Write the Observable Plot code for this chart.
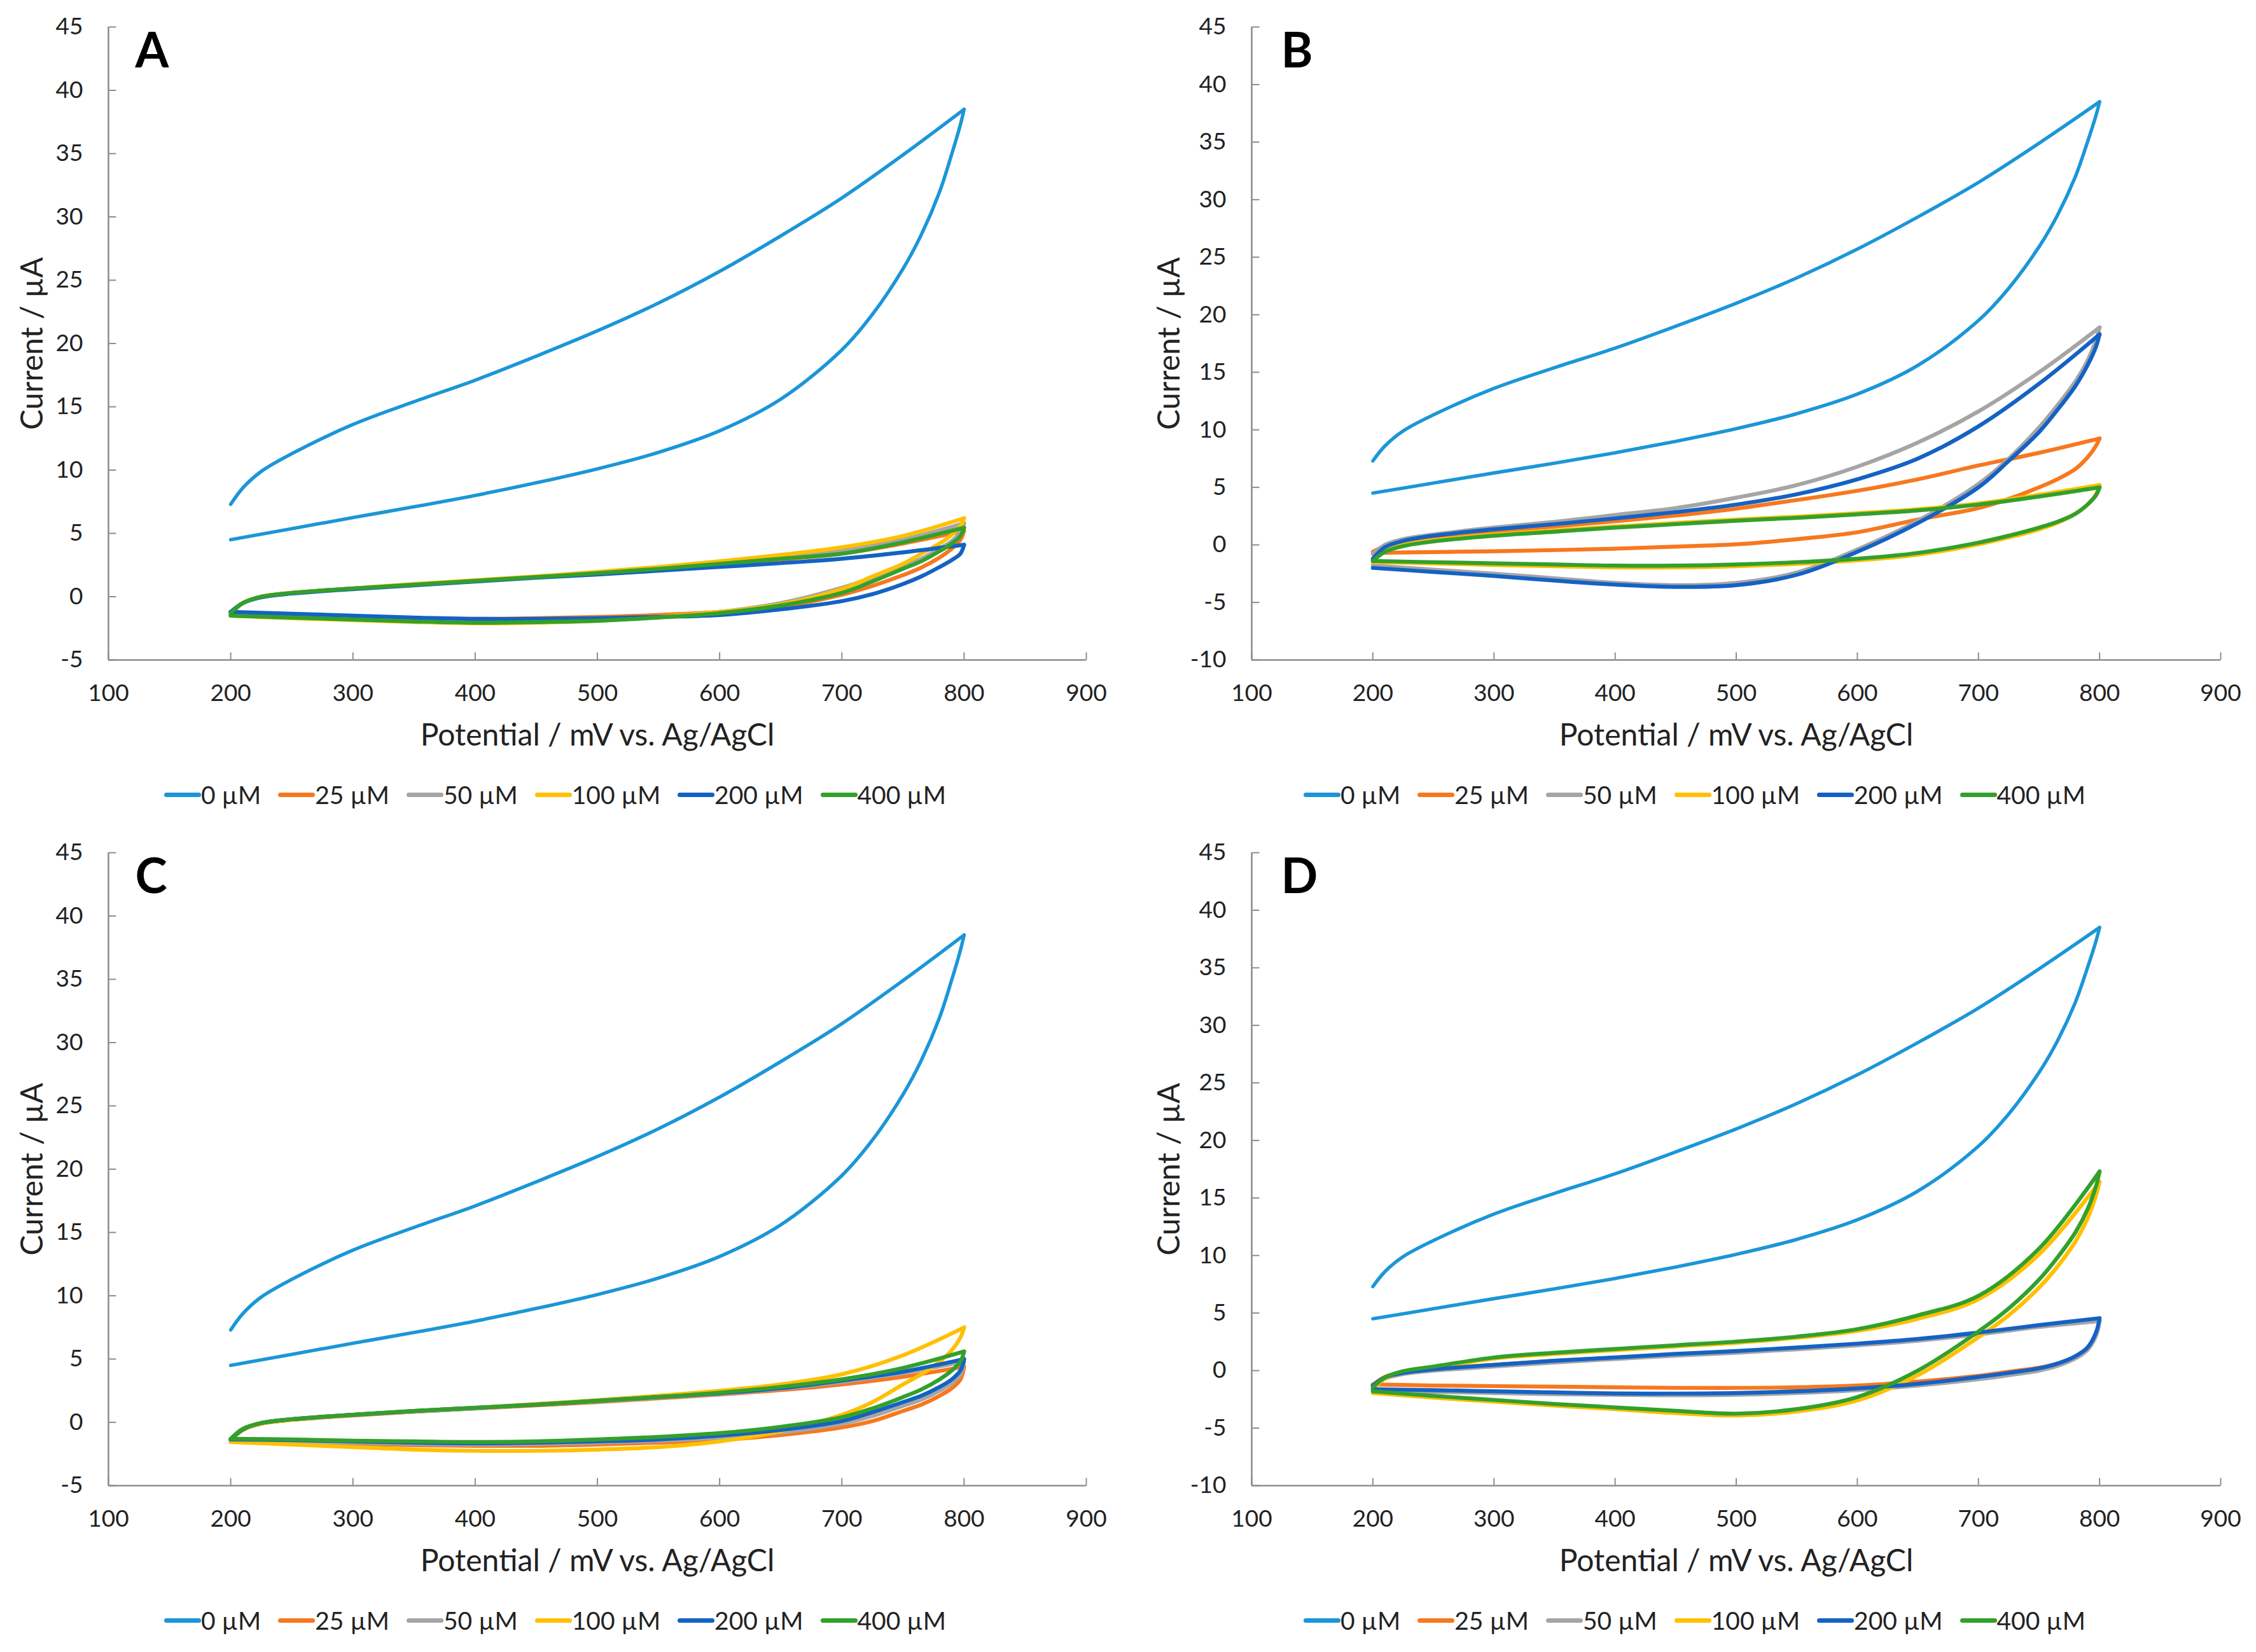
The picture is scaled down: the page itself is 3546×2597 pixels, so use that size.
<!DOCTYPE html>
<html>
<head>
<meta charset="utf-8">
<script src="https://cdn.jsdelivr.net/npm/d3@7"></script>
<script src="https://cdn.jsdelivr.net/npm/@observablehq/plot@0.6"></script>
<style>
  html, body { margin: 0; padding: 0; background: #fff; }
  #grid { display: grid; grid-template-columns: 1773px 1773px; grid-template-rows: 1298px 1299px; width: 3546px; }
  .cell { position: relative; width: 1773px; }
  .cell svg { display: block; }
  .legend { height: 98px; display: flex; align-items: center; font-family: Lato, "Open Sans", sans-serif; font-size: 39px; color: #222; }
  .item { display: flex; align-items: center; margin-right: 27px; }
  .sw { display: inline-block; width: 58px; height: 7px; border-radius: 4px; }
</style>
</head>
<body>
<div id="grid"></div>
<script>
// ---------- shared definitions ----------
const concentrations = ["0 µM", "25 µM", "50 µM", "100 µM", "200 µM", "400 µM"];
const seriesColors = ["#1b96d8", "#f7781e", "#a5a5a5", "#ffc000", "#1462c4", "#33a02c"];
const panelLetters = ["A", "B", "C", "D"];
const xTicks = [100, 200, 300, 400, 500, 600, 700, 800, 900];
const yTicksAC = [-5, 0, 5, 10, 15, 20, 25, 30, 35, 40, 45];
const yTicksBD = [-10, -5, 0, 5, 10, 15, 20, 25, 30, 35, 40, 45];
const xLabel = "Potential / mV vs. Ag/AgCl";
const yLabel = "Current / µA";

// potential grid (mV): forward scan 200 -> 800, reverse scan 800 -> 200
const potentialsForward = [200, 210, 225, 250, 300, 350, 400, 450, 500, 550, 600, 650, 700, 750, 800];
const potentialsReverse = [800, 797, 790, 780, 765, 750, 725, 700, 650, 600, 550, 500, 450, 400, 350, 300, 250, 200];

// ---------- 0 µM (control, same in every panel) ----------
const cv0_fwd = [7.3, 8.6, 9.9, 11.3, 13.6, 15.4, 17.1, 19.0, 21.0, 23.2, 25.7, 28.5, 31.5, 34.9, 38.5];
const cv0_rev = [38.5, 37.3, 35.0, 32.0, 28.6, 25.9, 22.3, 19.5, 15.6, 13.1, 11.4, 10.1, 9.0, 8.0, 7.1, 6.25, 5.37, 4.5];

// ---------- Panel A ----------
const A25_fwd = [-1.3, -0.5, 0.0, 0.3, 0.65, 0.95, 1.25, 1.55, 1.85, 2.2, 2.55, 2.95, 3.4, 4.2, 5.2];
const A25_rev = [5.2, 4.5, 3.8, 3.1, 2.3, 1.7, 0.85, 0.15, -0.8, -1.2, -1.45, -1.6, -1.7, -1.75, -1.7, -1.6, -1.45, -1.3];
const A50_fwd = [-1.3, -0.5, 0.0, 0.3, 0.65, 0.95, 1.25, 1.55, 1.9, 2.25, 2.7, 3.15, 3.7, 4.5, 5.8];
const A50_rev = [5.8, 5.1, 4.4, 3.8, 3.0, 2.4, 1.5, 0.7, -0.5, -1.2, -1.6, -1.85, -1.95, -2.0, -1.9, -1.75, -1.6, -1.45];
const A100_fwd = [-1.4, -0.5, 0.0, 0.3, 0.65, 1.0, 1.3, 1.6, 1.95, 2.35, 2.8, 3.3, 3.9, 4.8, 6.2];
const A100_rev = [6.2, 5.6, 4.9, 4.2, 3.4, 2.6, 1.6, 0.6, -0.6, -1.2, -1.6, -1.9, -2.05, -2.1, -2.0, -1.85, -1.7, -1.5];
const A200_fwd = [-1.2, -0.5, -0.05, 0.25, 0.6, 0.9, 1.2, 1.5, 1.75, 2.05, 2.35, 2.65, 3.0, 3.5, 4.1];
const A200_rev = [4.1, 3.4, 2.9, 2.35, 1.6, 1.0, 0.2, -0.35, -1.0, -1.45, -1.6, -1.7, -1.75, -1.75, -1.65, -1.5, -1.35, -1.2];
const A400_fwd = [-1.3, -0.5, 0.0, 0.3, 0.65, 0.95, 1.25, 1.55, 1.85, 2.2, 2.6, 3.0, 3.4, 4.3, 5.45];
const A400_rev = [5.45, 4.8, 4.2, 3.6, 2.8, 2.2, 1.2, 0.3, -0.7, -1.3, -1.65, -1.9, -2.0, -2.05, -1.95, -1.8, -1.65, -1.5];

// ---------- Panel B ----------
const B25_fwd = [-0.6, -0.1, 0.3, 0.7, 1.15, 1.6, 2.05, 2.55, 3.15, 3.9, 4.7, 5.7, 6.9, 8.0, 9.25];
const B25_rev = [9.25, 8.6, 7.6, 6.6, 5.7, 5.0, 4.0, 3.2, 2.2, 1.1, 0.5, 0.05, -0.15, -0.33, -0.45, -0.55, -0.62, -0.7];
const B50_fwd = [-0.8, 0.0, 0.5, 0.9, 1.5, 2.0, 2.6, 3.2, 4.1, 5.2, 6.8, 8.9, 11.6, 15.0, 18.9];
const B50_rev = [18.9, 17.8, 16.0, 14.2, 12.1, 10.2, 7.5, 5.3, 2.1, -0.4, -2.4, -3.3, -3.5, -3.3, -2.9, -2.5, -2.15, -1.8];
const B100_fwd = [-1.3, -0.5, 0.0, 0.4, 0.9, 1.25, 1.6, 1.9, 2.2, 2.45, 2.75, 3.1, 3.6, 4.35, 5.2];
const B100_rev = [5.2, 4.4, 3.5, 2.7, 1.9, 1.35, 0.65, 0.05, -0.85, -1.35, -1.65, -1.85, -1.95, -1.95, -1.85, -1.75, -1.6, -1.5];
const B200_fwd = [-1.2, -0.2, 0.35, 0.8, 1.35, 1.8, 2.3, 2.85, 3.5, 4.4, 5.7, 7.5, 10.3, 14.0, 18.3];
const B200_rev = [18.3, 17.2, 15.6, 13.8, 11.7, 9.8, 7.3, 5.0, 1.9, -0.6, -2.6, -3.5, -3.65, -3.45, -3.1, -2.7, -2.35, -2.0];
const B400_fwd = [-1.4, -0.6, -0.1, 0.3, 0.8, 1.15, 1.5, 1.8, 2.1, 2.35, 2.65, 3.0, 3.5, 4.2, 5.0];
const B400_rev = [5.0, 4.3, 3.5, 2.7, 2.0, 1.5, 0.8, 0.2, -0.7, -1.2, -1.5, -1.7, -1.8, -1.8, -1.7, -1.6, -1.5, -1.4];

// ---------- Panel C ----------
const C25_fwd = [-1.4, -0.6, -0.1, 0.2, 0.55, 0.85, 1.1, 1.35, 1.6, 1.9, 2.2, 2.55, 3.0, 3.6, 4.4];
const C25_rev = [4.4, 3.4, 2.7, 2.1, 1.4, 0.9, 0.1, -0.4, -1.0, -1.4, -1.6, -1.75, -1.85, -1.85, -1.8, -1.7, -1.6, -1.5];
const C50_fwd = [-1.35, -0.55, -0.05, 0.25, 0.6, 0.85, 1.1, 1.4, 1.65, 1.95, 2.25, 2.65, 3.2, 3.9, 4.8];
const C50_rev = [4.8, 3.8, 3.1, 2.5, 1.8, 1.3, 0.5, -0.1, -0.8, -1.2, -1.45, -1.6, -1.7, -1.75, -1.7, -1.6, -1.5, -1.4];
const C100_fwd = [-1.4, -0.6, -0.1, 0.2, 0.6, 0.9, 1.15, 1.45, 1.75, 2.1, 2.5, 3.0, 3.8, 5.3, 7.5];
const C100_rev = [7.5, 6.7, 5.7, 4.8, 3.8, 3.0, 1.6, 0.6, -0.7, -1.5, -1.95, -2.15, -2.25, -2.25, -2.15, -1.95, -1.75, -1.55];
const C200_fwd = [-1.35, -0.55, -0.05, 0.25, 0.6, 0.9, 1.15, 1.4, 1.7, 2.0, 2.3, 2.7, 3.3, 4.0, 5.0];
const C200_rev = [5.0, 4.1, 3.4, 2.8, 2.1, 1.6, 0.8, 0.1, -0.6, -1.05, -1.35, -1.5, -1.6, -1.65, -1.6, -1.5, -1.4, -1.35];
const C400_fwd = [-1.3, -0.5, -0.05, 0.25, 0.6, 0.9, 1.15, 1.4, 1.7, 2.0, 2.35, 2.8, 3.4, 4.3, 5.6];
const C400_rev = [5.6, 4.8, 4.1, 3.4, 2.6, 2.0, 1.1, 0.4, -0.35, -0.85, -1.15, -1.35, -1.5, -1.55, -1.5, -1.45, -1.35, -1.3];

// ---------- Panel D ----------
const D25_fwd = [-1.25, -0.55, -0.15, 0.15, 0.5, 0.85, 1.12, 1.4, 1.65, 1.95, 2.3, 2.7, 3.2, 3.85, 4.4];
const D25_rev = [4.4, 3.1, 1.9, 1.2, 0.6, 0.25, -0.1, -0.45, -0.95, -1.3, -1.45, -1.5, -1.5, -1.45, -1.4, -1.35, -1.3, -1.2];
const D50_fwd = [-1.4, -0.7, -0.3, 0.0, 0.35, 0.7, 1.0, 1.3, 1.55, 1.85, 2.2, 2.6, 3.15, 3.8, 4.3];
const D50_rev = [4.3, 3.0, 1.8, 1.05, 0.4, 0.0, -0.4, -0.75, -1.3, -1.7, -1.95, -2.1, -2.15, -2.1, -2.05, -1.95, -1.85, -1.75];
const D100_fwd = [-1.6, -0.7, -0.15, 0.25, 1.05, 1.45, 1.78, 2.1, 2.42, 2.85, 3.45, 4.5, 6.2, 10.1, 16.4];
const D100_rev = [16.4, 15.2, 13.2, 11.2, 9.0, 7.2, 4.8, 2.9, -0.4, -2.6, -3.55, -3.9, -3.7, -3.35, -3.05, -2.7, -2.35, -1.95];
const D200_fwd = [-1.3, -0.6, -0.2, 0.1, 0.5, 0.85, 1.14, 1.45, 1.7, 2.0, 2.34, 2.75, 3.3, 3.95, 4.55];
const D200_rev = [4.55, 3.3, 2.0, 1.25, 0.6, 0.2, -0.2, -0.55, -1.15, -1.55, -1.8, -1.95, -2.0, -1.99, -1.9, -1.8, -1.7, -1.62];
const D400_fwd = [-1.45, -0.6, -0.05, 0.35, 1.14, 1.55, 1.88, 2.2, 2.52, 2.95, 3.6, 4.8, 6.5, 10.6, 17.3];
const D400_rev = [17.3, 16.0, 14.0, 12.0, 9.8, 7.9, 5.4, 3.4, 0.0, -2.3, -3.35, -3.74, -3.5, -3.2, -2.9, -2.55, -2.2, -1.8];

// ---------- build tables ----------
function loop(conc, fwd, rev) {
  return [
    ...fwd.map((I, i) => ({E: potentialsForward[i], I, conc, key: conc + " fwd"})),
    ...rev.map((I, i) => ({E: potentialsReverse[i], I, conc, key: conc + " rev"}))
  ];
}
const panelSeries = [
  [[A25_fwd, A25_rev], [A50_fwd, A50_rev], [A100_fwd, A100_rev], [A200_fwd, A200_rev], [A400_fwd, A400_rev]],
  [[B25_fwd, B25_rev], [B50_fwd, B50_rev], [B100_fwd, B100_rev], [B200_fwd, B200_rev], [B400_fwd, B400_rev]],
  [[C25_fwd, C25_rev], [C50_fwd, C50_rev], [C100_fwd, C100_rev], [C200_fwd, C200_rev], [C400_fwd, C400_rev]],
  [[D25_fwd, D25_rev], [D50_fwd, D50_rev], [D100_fwd, D100_rev], [D200_fwd, D200_rev], [D400_fwd, D400_rev]]
];
const yMins = [-5, -10, -5, -10];
const yTickSets = [yTicksAC, yTicksBD, yTicksAC, yTicksBD];

// ---------- styling ----------
const FONT = "Lato, 'Open Sans', sans-serif";
const axisGray = "#8e8e8e";
const textColor = "#222";
const tickUp = {draw(ctx) { ctx.moveTo(0, 0); ctx.lineTo(0, -12); }};
const tickRight = {draw(ctx) { ctx.moveTo(0, 0); ctx.lineTo(12, 0); }};

function makePanel(p) {
  const wide = p % 2 === 1;            // panels B and D have a "-10" tick
  const marginLeft = wide ? 194 : 170;
  const marginRight = wide ? 56 : 66;
  const yMin = yMins[p];
  const yTicks = yTickSets[p];
  const control = loop(concentrations[0], cv0_fwd, cv0_rev);
  const others = panelSeries[p].flatMap((s, i) => loop(concentrations[i + 1], s[0], s[1]));
  return Plot.plot({
    width: 1773,
    height: 1200,
    marginLeft, marginRight,
    marginTop: 42,
    marginBottom: 163,
    style: {fontFamily: FONT, color: textColor, background: "white", overflow: "visible"},
    x: {domain: [100, 900]},
    y: {domain: [yMin, 45]},
    color: {domain: concentrations, range: seriesColors},
    marks: [
      Plot.ruleY([yMin], {stroke: axisGray, strokeWidth: 2.6}),
      Plot.ruleX([100], {stroke: axisGray, strokeWidth: 2.6}),
      Plot.dot(xTicks, {x: d => d, y: yMin, symbol: tickUp, fill: "none", stroke: axisGray, strokeWidth: 2}),
      Plot.dot(yTicks, {x: 100, y: d => d, symbol: tickRight, fill: "none", stroke: axisGray, strokeWidth: 2}),
      Plot.axisX({ticks: xTicks, tickSize: 0, tickPadding: 38, tickFormat: d => String(d), fontSize: 37, label: null}),
      Plot.axisY({ticks: yTicks, tickSize: 0, tickPadding: 40, tickFormat: d => String(d), fontSize: 37, label: null}),
      Plot.line(control, {x: "E", y: "I", z: "key", stroke: "conc", curve: "catmull-rom", strokeWidth: 5.4, strokeLinecap: "round", strokeLinejoin: "round"}),
      Plot.line(others, {x: "E", y: "I", z: "key", stroke: "conc", curve: "catmull-rom", strokeWidth: 6.2, strokeLinecap: "round", strokeLinejoin: "round"}),
      Plot.text([panelLetters[p]], {frameAnchor: "top-left", dx: wide ? 46 : 42, dy: 10, textAnchor: "start", lineAnchor: "top", fontSize: 76, fontWeight: "bold", fill: "#000"}),
      Plot.text([xLabel], {frameAnchor: "bottom", dy: 119, lineAnchor: "middle", textAnchor: "middle", fontSize: 48, fill: textColor}),
      Plot.text([yLabel], {frameAnchor: "left", dx: wide ? -129 : -119, rotate: -90, textAnchor: "middle", lineAnchor: "middle", fontSize: 48, fill: textColor})
    ]
  });
}

const grid = document.getElementById("grid");
for (let p = 0; p < 4; p++) {
  const cell = document.createElement("div");
  cell.className = "cell";
  cell.appendChild(makePanel(p));
  const legend = document.createElement("div");
  legend.className = "legend";
  legend.style.paddingLeft = (p % 2 === 1 ? 276 : 258) + "px";
  concentrations.forEach((c, i) => {
    const item = document.createElement("span");
    item.className = "item";
    const sw = document.createElement("span");
    sw.className = "sw";
    sw.style.background = seriesColors[i];
    const lab = document.createElement("span");
    lab.textContent = c;
    item.appendChild(sw);
    item.appendChild(lab);
    legend.appendChild(item);
  });
  cell.appendChild(legend);
  grid.appendChild(cell);
}
</script>
</body>
</html>
